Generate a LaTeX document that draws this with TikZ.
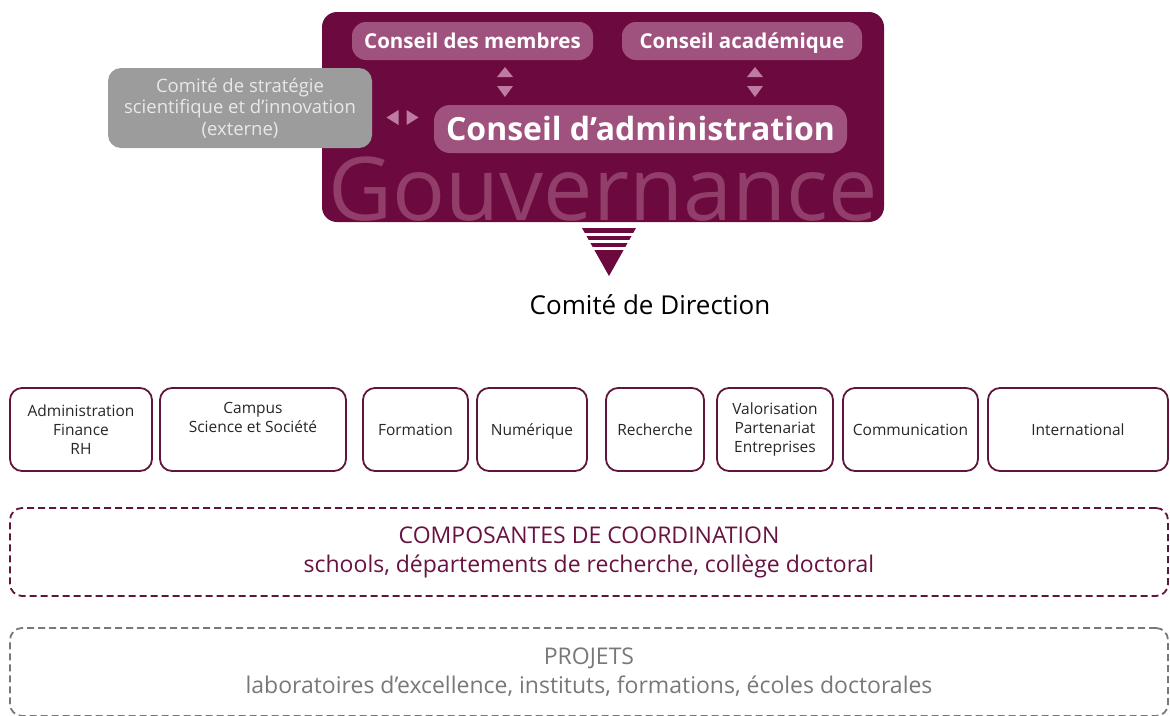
\documentclass[tikz,border=0pt]{standalone}
\usepackage{fontspec}
\setmainfont{Open Sans}
\usetikzlibrary{positioning}
\definecolor{govbg}{RGB}{108,10,64}
\definecolor{govpill}{RGB}{160,82,126}
\definecolor{govword}{RGB}{146,62,106}
\definecolor{govtri}{RGB}{190,122,160}
\definecolor{stratbg}{RGB}{156,156,156}
\definecolor{strattext}{RGB}{232,232,232}
\definecolor{unitline}{RGB}{96,22,60}
\definecolor{coordtext}{RGB}{104,18,66}
\definecolor{projgrey}{RGB}{120,120,120}

\begin{document}
\begin{tikzpicture}[
x=1pt,y=-1pt,
pill/.style={
  fill=govpill,
  rounded corners=14pt,
  text=white,
  inner sep=0pt,
  text height=16.5pt,
  text depth=2pt
  },
unit/.style={
  draw=unitline,
  line width=1.8pt,
  rounded corners=12pt,
  minimum height=83pt,
  inner sep=2pt,
  align=center,
  text=black!85,
  font=\fontsize{15.5}{19}\selectfont
  },
oneline/.style={
  text height=12pt,
  text depth=1pt
  },
layer/.style={
  dashed,
  line width=1.8pt,
  dash pattern=on 7pt off 4pt,
  rounded corners=12pt,
  minimum width=1158pt,
  minimum height=88pt,
  align=center,
  font=\fontsize{23}{29}\selectfont
  },
tri/.style={
  fill=govtri
  }
]
\useasboundingbox (0,0) rectangle (1170,715);

% gouvernance
\node[fill=govbg, rounded corners=15pt, minimum width=562pt,
  minimum height=210pt, inner sep=0pt] (gov) at (603,117) {};
\node[anchor=base, text=govword, inner sep=0pt,
  font=\fontsize{88}{88}\selectfont] (govword) at (603,220) {Gouvernance};
\node[pill, minimum width=241pt, minimum height=38pt,
  font=\bfseries\fontsize{20.5}{22}\selectfont] (membres) at (472.5,41) {Conseil des membres};
\node[pill, minimum width=240pt, minimum height=38pt,
  font=\bfseries\fontsize{20.5}{22}\selectfont] (academique) at (742,41) {Conseil académique};
\node[pill, minimum width=413pt, minimum height=48pt, rounded corners=16pt,
  text height=26pt, text depth=3pt,
  font=\bfseries\fontsize{32}{34}\selectfont] (admin) at (640.5,129) {Conseil d’administration};
\node[fill=stratbg, rounded corners=13pt, minimum width=264pt,
  minimum height=80pt, align=center, text=strattext,
  font=\fontsize{18.5}{21.5}\selectfont] (strat) at (240,108)
  {Comité de stratégie\\scientifique et d’innovation\\(externe)};

% petites fleches
\foreach \cx in {505,755}
{
  \fill[tri] (\cx-8,77) -- (\cx+8,77) -- (\cx,67) -- cycle;
  \fill[tri] (\cx-8,86) -- (\cx+8,86) -- (\cx,97) -- cycle;
}
\coordinate (lr) at (402.5,117.5);
\fill[tri] ([xshift=-4pt]lr) -- ++(0,-7.5) -- ++(-12,7.5) -- ++(12,7.5) -- cycle;
\fill[tri] ([xshift=4pt]lr) -- ++(0,-7.5) -- ++(12,7.5) -- ++(-12,7.5) -- cycle;

% triangle vers le comite
\coordinate (apex) at (609,276);
\fill[govbg] (582,228) -- (636,228) -- (apex) -- cycle;
\foreach \sy in {234.5,241.5,248.5}
  \draw[white, line width=2.4pt] (575,\sy) -- (643,\sy);

\node[font=\fontsize{26}{28}\selectfont] (direction) at (650,305)
  {Comité de Direction};

% services
\node[unit, minimum width=142pt] (adm) at (81,429.5) {Administration\\Finance\\RH};
\node[unit, minimum width=186pt] (campus) at (253,429.5) {Campus\\Science et Société\\\strut};
\node[unit, oneline, minimum width=105pt] (form) at (415.5,429.5) {Formation};
\node[unit, oneline, minimum width=110pt] (num) at (532,429.5) {Numérique};
\node[unit, oneline, minimum width=98pt] (rech) at (655,429.5) {Recherche};
\node[unit, minimum width=116pt] (valo) at (775,429.5) {Valorisation\\Partenariat\\Entreprises};
\node[unit, oneline, minimum width=135pt] (comm) at (910.5,429.5) {Communication};
\node[unit, oneline, minimum width=180pt] (inter) at (1078,429.5) {International};

% composantes et projets
\node[layer, draw=unitline, text=coordtext] (coord) at (589,552)
  {COMPOSANTES DE COORDINATION\\schools, départements de recherche, collège doctoral};
\node[layer, draw=projgrey, text=projgrey] (proj) at (589,672)
  {PROJETS\\laboratoires d’excellence, instituts, formations, écoles doctorales};
\end{tikzpicture}
\end{document}
